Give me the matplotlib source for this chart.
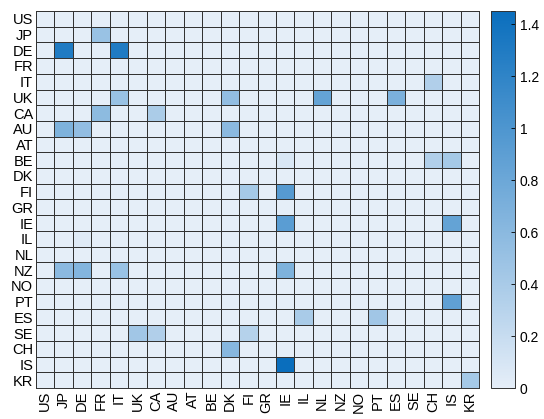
import numpy as np
import matplotlib
matplotlib.use('Agg')
import matplotlib.pyplot as plt
from matplotlib.colors import LinearSegmentedColormap

plt.rcParams['font.family'] = ['Liberation Sans', 'DejaVu Sans']

countries = ['US', 'JP', 'DE', 'FR', 'IT', 'UK', 'CA', 'AU', 'AT', 'BE', 'DK', 'FI',
             'GR', 'IE', 'IL', 'NL', 'NZ', 'NO', 'PT', 'ES', 'SE', 'CH', 'IS', 'KR']

# nonzero cells: (row country, column country, value)
cells = [
    ('JP', 'FR', 0.50),
    ('DE', 'JP', 1.30), ('DE', 'IT', 1.30),
    ('IT', 'CH', 0.35),
    ('UK', 'IT', 0.50), ('UK', 'DK', 0.55), ('UK', 'NL', 0.85), ('UK', 'ES', 0.70),
    ('CA', 'FR', 0.58), ('CA', 'CA', 0.38),
    ('AU', 'JP', 0.68), ('AU', 'DE', 0.55), ('AU', 'DK', 0.60),
    ('BE', 'IE', 0.08), ('BE', 'CH', 0.35), ('BE', 'IS', 0.42),
    ('FI', 'FI', 0.42), ('FI', 'IE', 0.95),
    ('IE', 'IE', 0.92), ('IE', 'IS', 0.85),
    ('IL', 'DE', 0.04),
    ('NZ', 'JP', 0.60), ('NZ', 'DE', 0.65), ('NZ', 'IT', 0.50), ('NZ', 'IE', 0.68),
    ('PT', 'IS', 0.88),
    ('ES', 'IL', 0.40), ('ES', 'PT', 0.45),
    ('SE', 'UK', 0.45), ('SE', 'CA', 0.35), ('SE', 'FI', 0.32),
    ('CH', 'DK', 0.62),
    ('IS', 'IE', 1.45),
    ('KR', 'KR', 0.42),
]

n = len(countries)
data = np.zeros((n, n))
for r, c, v in cells:
    data[countries.index(r), countries.index(c)] = v

cmap = LinearSegmentedColormap.from_list('lb', ['#e5eef8', '#0a6ebd'])

fig = plt.figure(figsize=(5.44, 4.19), dpi=100)
ax = fig.add_axes([36 / 544, 1 - 388 / 419, (479 - 36) / 544, (388 - 11) / 419])
cax = fig.add_axes([491 / 544, 1 - 388 / 419, (515 - 491) / 544, (388 - 11) / 419])

mesh = ax.pcolormesh(data, cmap=cmap, vmin=0, vmax=1.45,
                     edgecolors='#333333', linewidth=0.55)
ax.set_xlim(0, n)
ax.set_ylim(n, 0)
ax.set_xticks(np.arange(n) + 0.5)
ax.set_yticks(np.arange(n) + 0.5)
ax.set_xticklabels(countries, rotation=90, fontsize=10.5)
ax.set_yticklabels(countries, fontsize=10.5)
ax.tick_params(length=0, pad=2)
for s in ax.spines.values():
    s.set_color('#333333')
    s.set_linewidth(0.7)

cb = fig.colorbar(mesh, cax=cax)
cb.set_ticks([0, 0.2, 0.4, 0.6, 0.8, 1, 1.2, 1.4])
cb.set_ticklabels(['0', '0.2', '0.4', '0.6', '0.8', '1', '1.2', '1.4'])
cb.ax.tick_params(direction='in', length=3, labelsize=10, width=0.6)
cb.outline.set_linewidth(0.7)
cb.outline.set_edgecolor('#333333')

fig.savefig('out.png', dpi=100)
